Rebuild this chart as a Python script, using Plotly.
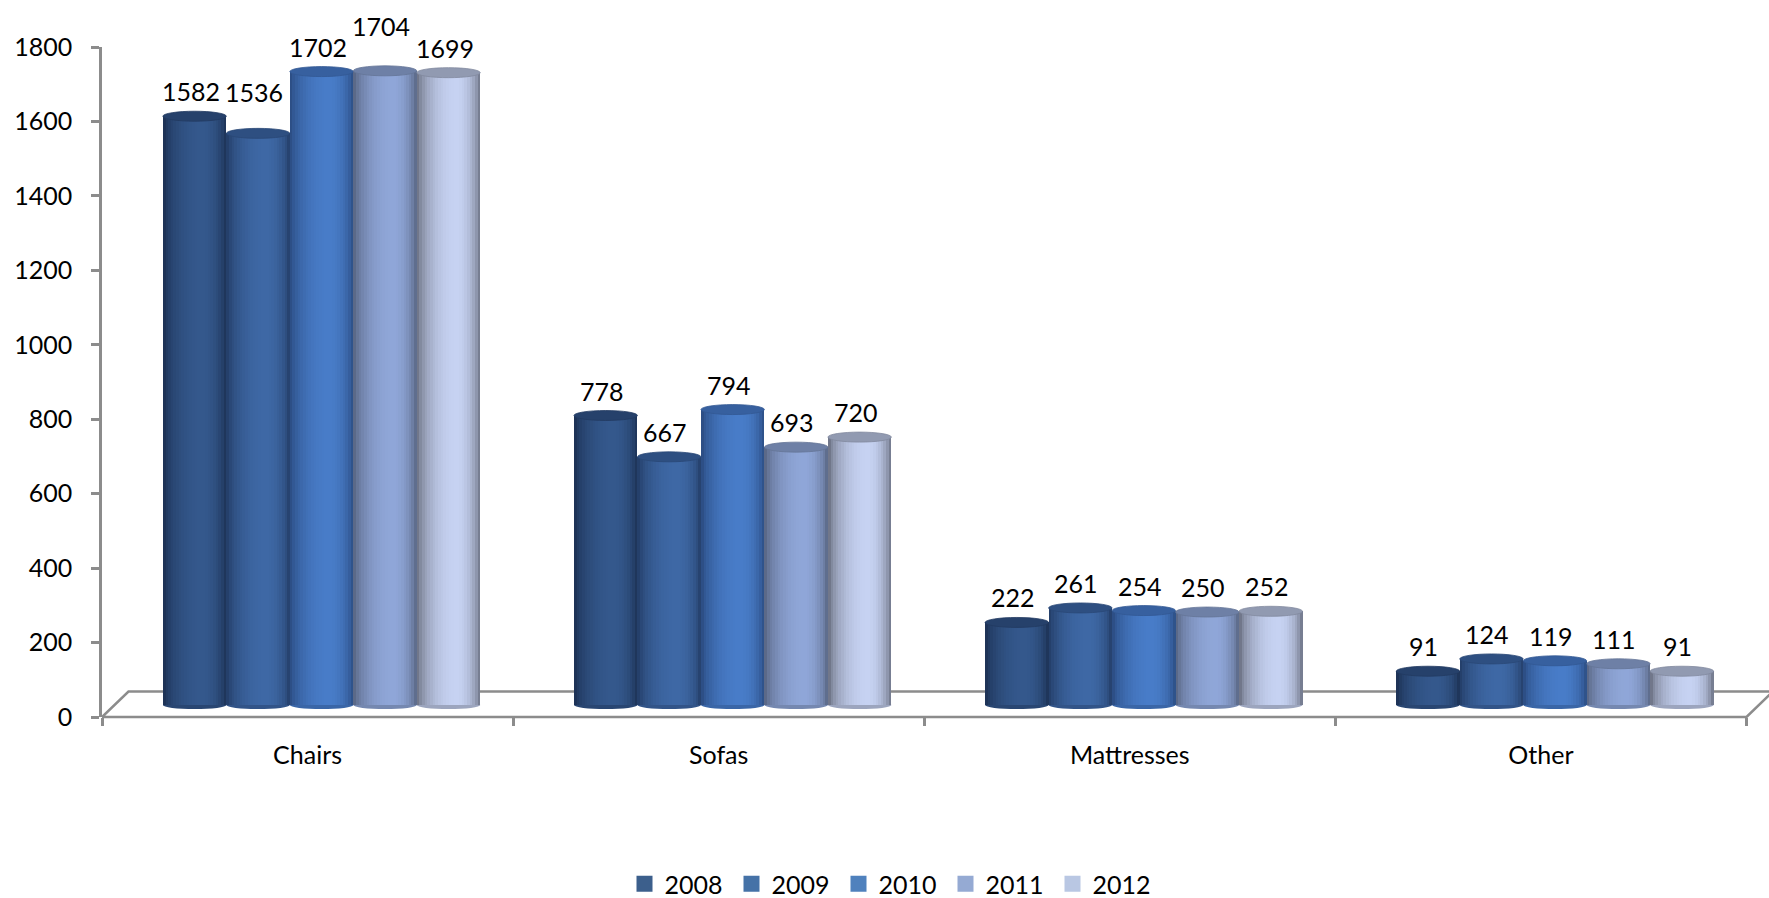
import math
import plotly.graph_objects as go

# ---- data -------------------------------------------------------------
categories = ["Chairs", "Sofas", "Mattresses", "Other"]
years = ["2008", "2009", "2010", "2011", "2012"]
sales_2008 = [1582, 778, 222, 91]
sales_2009 = [1536, 667, 261, 124]
sales_2010 = [1702, 794, 254, 119]
sales_2011 = [1704, 693, 250, 111]
sales_2012 = [1699, 720, 252, 91]
series = [sales_2008, sales_2009, sales_2010, sales_2011, sales_2012]
y_ticks = [0, 200, 400, 600, 800, 1000, 1200, 1400, 1600, 1800]

# ---- styling ----------------------------------------------------------
FONT = "Lato"
FS = 25
W, H = 1769, 898
M_L, M_R, M_T, M_B = 101.5, 0, 47.4, 180.5
PLOT_W = W - M_L - M_R
PLOT_H = H - M_T - M_B
Y_MAX = 1800
PX_PER_CAT = 411.25                 # pixels per category slot
X_MAX = PLOT_W / PX_PER_CAT
U_PER_PX_Y = Y_MAX / PLOT_H
U_PER_PX_X = 1 / PX_PER_CAT

legend_colors = ["#3C5F8C", "#4572A7", "#4F81BD", "#95AAD3", "#B9C7E3"]
center_colors = [(52, 88, 140), (62, 104, 165), (72, 124, 200), (143, 166, 216), (198, 210, 242)]
edge_colors = [(24, 42, 74), (31, 54, 93), (38, 68, 118), (78, 90, 116), (92, 97, 112)]

AXIS_GREY = "#8c8c8c"
LINE_W = 2.5
DEPTH_DX = 26.5 * U_PER_PX_X        # floor depth (horizontal, axis units)
DEPTH_DY = 25.5 / PLOT_H            # floor depth (vertical, paper units)
BAR_BASE = 32                       # bars stand mid-way into the floor
BAR_SHIFT = 14 * U_PER_PX_X
BAR_W = 63.5 * U_PER_PX_X
N_STRIPS = 24
CAP_HALF = 5 * U_PER_PX_Y
LABEL_GAP = 25
LABEL_XSHIFT = -4
label_lift = {(0, 1): 16, (0, 3): 20}   # nudges to keep crowded labels apart


def mix(a, b, t):
    return tuple(round(a[i] + (b[i] - a[i]) * t) for i in range(3))


def rgb(c):
    return "rgb(%d,%d,%d)" % c


def shade(t):
    # cylinder lighting with the highlight slightly right of centre
    peak = 0.62
    w = 0.5 * t / peak if t < peak else 0.5 + 0.5 * (t - peak) / (1 - peak)
    return math.sin(math.pi * w) ** 0.55


fig = go.Figure()

n_cat = len(categories)
x_centers = [i + 0.5 for i in range(n_cat)]
shapes = []

# floor of the 3-D plot area (front edge on the value axis' zero line)
shapes.append(dict(
    type="path", xref="x", yref="paper", layer="below",
    path="M 0,0 L %f,%f L %f,%f L %f,%f L %f,0 Z" % (
        DEPTH_DX, DEPTH_DY, X_MAX + DEPTH_DX, DEPTH_DY,
        n_cat + DEPTH_DX, DEPTH_DY, n_cat),
    line=dict(color=AXIS_GREY, width=LINE_W), fillcolor="rgba(0,0,0,0)"))

annotations = []
for j, (yr, vals) in enumerate(zip(years, series)):
    c_col, e_col = center_colors[j], edge_colors[j]
    left = -2.5 * BAR_W + j * BAR_W + BAR_SHIFT
    sw = BAR_W / N_STRIPS
    for k in range(N_STRIPS):
        t = (k + 0.5) / N_STRIPS
        col = mix(e_col, c_col, shade(t))
        fig.add_trace(go.Bar(
            x=x_centers, y=vals, base=BAR_BASE,
            offset=left + k * sw, width=sw * (1.8 if k < N_STRIPS - 1 else 1.0),
            marker=dict(color=rgb(col), line=dict(width=0)),
            showlegend=False, hoverinfo="skip"))
    cap_col = rgb(mix(e_col, c_col, 0.5))
    for i, v in enumerate(vals):
        x0 = x_centers[i] + left
        x1 = x0 + BAR_W
        top = v + BAR_BASE
        shapes.append(dict(type="circle", xref="x", yref="y", layer="above",
                           x0=x0, x1=x1, y0=top - CAP_HALF, y1=top + CAP_HALF,
                           fillcolor=cap_col,
                           line=dict(color=rgb(mix(e_col, c_col, 0.35)), width=0.8)))
        shapes.append(dict(type="circle", xref="x", yref="y", layer="below",
                           x0=x0, x1=x1, y0=BAR_BASE - CAP_HALF * 0.8, y1=BAR_BASE + CAP_HALF * 0.8,
                           fillcolor=rgb(mix(e_col, c_col, 0.6)), line=dict(width=0)))
        annotations.append(dict(
            x=x0 + BAR_W / 2, y=top, xref="x", yref="y", text=str(v), showarrow=False,
            yanchor="middle", xshift=LABEL_XSHIFT,
            yshift=LABEL_GAP + label_lift.get((i, j), 0),
            font=dict(family=FONT, size=FS, color="black")))
    # legend entry
    fig.add_trace(go.Scatter(
        x=[None], y=[None], mode="markers", name=yr,
        marker=dict(symbol="square", size=16, color=legend_colors[j]), hoverinfo="skip"))

fig.update_layout(
    template="none",
    width=W, height=H,
    margin=dict(l=M_L, r=M_R, t=M_T, b=M_B, pad=0, autoexpand=False),
    paper_bgcolor="white", plot_bgcolor="white",
    barmode="overlay", bargap=0,
    font=dict(family=FONT, size=FS, color="black"),
    shapes=shapes, annotations=annotations,
    showlegend=True,
    legend=dict(orientation="h", xref="container", yref="container",
                x=892 / W, xanchor="center", y=1 - 884 / H, yanchor="middle",
                font=dict(family=FONT, size=FS, color="black"),
                itemwidth=30, entrywidth=62, entrywidthmode="pixels",
                bgcolor="rgba(0,0,0,0)"),
    xaxis=dict(range=[0, X_MAX], automargin=False, showgrid=False, zeroline=False,
               showline=False,
               tickvals=x_centers, ticktext=categories, ticks="", ticklabelstandoff=21,
               tickfont=dict(family=FONT, size=FS, color="black"),
               minor=dict(tickvals=list(range(n_cat + 1)), ticks="outside",
                          ticklen=8, tickwidth=LINE_W, tickcolor=AXIS_GREY, showgrid=False)),
    yaxis=dict(range=[0, Y_MAX], automargin=False, tickvals=y_ticks, showgrid=False,
               zeroline=False, showline=True, linecolor=AXIS_GREY, linewidth=LINE_W,
               ticks="outside", ticklen=8, tickwidth=LINE_W, tickcolor=AXIS_GREY,
               ticklabelstandoff=14,
               tickfont=dict(family=FONT, size=FS, color="black")),
)

fig.write_html("out.html")
